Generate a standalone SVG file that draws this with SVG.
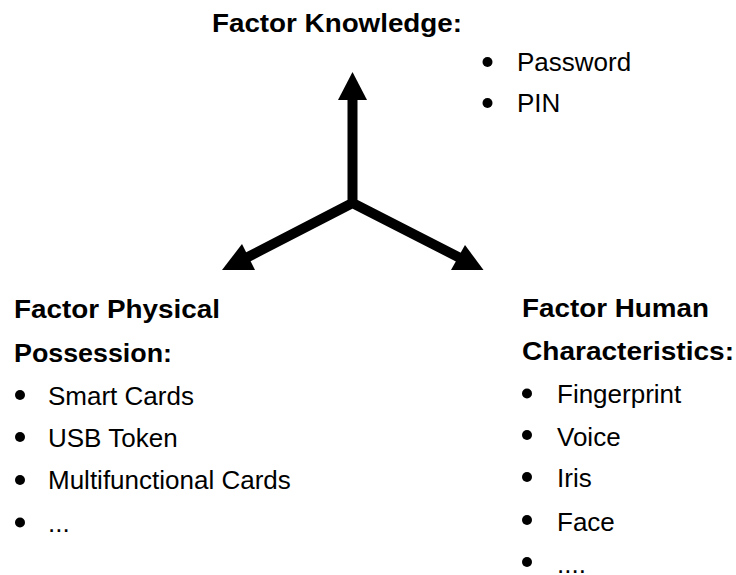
<svg xmlns="http://www.w3.org/2000/svg" width="736" height="575" viewBox="0 0 736 575">
<style>
.h{font-family:"Liberation Sans",Arial,sans-serif;font-weight:bold;font-size:25px;fill:#000}
.t{font-family:"Liberation Sans",Arial,sans-serif;font-size:26px;fill:#000}
.b{fill:#000}
.shaft{stroke:#000;stroke-width:10;fill:none;stroke-linecap:butt;stroke-linejoin:round}
.head{fill:#000}
</style>
<rect width="736" height="575" fill="#fff"/>
<g id="connectors">
<path class="shaft" d="M352.5,98 L352.5,203 M352.5,203 L240,261 M352.5,203 L466,261"/>
<polygon class="head" points="352.5,72 338,100 367,100"/>
<polygon class="head" points="222,270 242,244 255,270"/>
<polygon class="head" points="451,270 465,245 483.5,270"/>
</g>
<g id="knowledge">
<text class="h" x="212" y="32" textLength="250" lengthAdjust="spacingAndGlyphs">Factor Knowledge:</text>
<circle class="b" cx="487.5" cy="62" r="5"/>
<text class="t" x="517" y="71">Password</text>
<circle class="b" cx="487.5" cy="103" r="5"/>
<text class="t" x="517" y="112">PIN</text>
</g>
<g id="possession">
<text class="h" x="14" y="318" textLength="206" lengthAdjust="spacingAndGlyphs">Factor Physical</text>
<text class="h" x="14" y="362" textLength="158" lengthAdjust="spacingAndGlyphs">Possession:</text>
<circle class="b" cx="20" cy="395" r="5"/>
<text class="t" x="48" y="405">Smart Cards</text>
<circle class="b" cx="20" cy="437" r="5"/>
<text class="t" x="48" y="447">USB Token</text>
<circle class="b" cx="20" cy="480" r="5"/>
<text class="t" x="48" y="489">Multifunctional Cards</text>
<circle class="b" cx="20" cy="522.5" r="5"/>
<text class="t" x="48" y="532">...</text>
</g>
<g id="human">
<text class="h" x="522" y="317" textLength="187" lengthAdjust="spacingAndGlyphs">Factor Human</text>
<text class="h" x="522" y="360" textLength="212" lengthAdjust="spacingAndGlyphs">Characteristics:</text>
<circle class="b" cx="527" cy="393.5" r="5"/>
<text class="t" x="557" y="403">Fingerprint</text>
<circle class="b" cx="527" cy="435" r="5"/>
<text class="t" x="557" y="446">Voice</text>
<circle class="b" cx="527" cy="477" r="5"/>
<text class="t" x="557" y="487">Iris</text>
<circle class="b" cx="527" cy="520" r="5"/>
<text class="t" x="557" y="530.5">Face</text>
<circle class="b" cx="527" cy="562" r="5"/>
<text class="t" x="557" y="573">....</text>
</g>
</svg>
